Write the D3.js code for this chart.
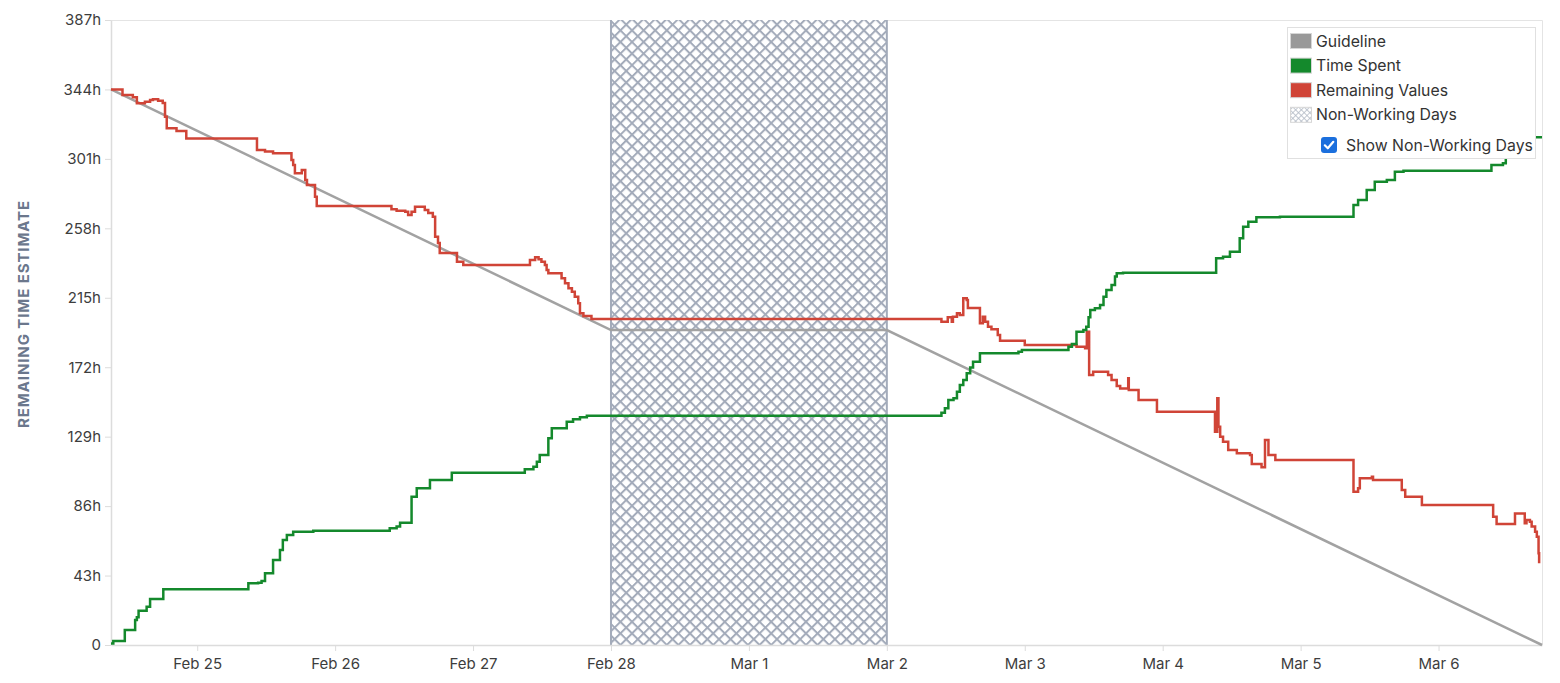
<!DOCTYPE html>
<html>
<head>
<meta charset="utf-8">
<script src="https://cdn.jsdelivr.net/npm/d3@7"></script>
<style>
  body { margin: 0; background: #fff; font-family: Inter, "Noto Sans", sans-serif; }
</style>
</head>
<body>
<div id="chart"></div>
<script>
/////// DATA  (times are hours since the sprint start, Feb 24 09:00)

const sprintStart = new Date(2026, 1, 24, 9, 0);
const sprintEndHour = 249;

// guideline corners
const guideHours = [0, 87, 135, 249];
const guideValues = [344, 195, 195, 0];

// non-working days: Feb 28 00:00 -> Mar 2 00:00
const nonWorkingFrom = [87];
const nonWorkingTo = [135];

// time spent (green)
const spentHours = [0, 0.4, 2.4, 4.2, 4.5, 4.8, 6.2, 6.8, 9.1, 23.9,
  25.6, 26.2, 26.8, 28.2, 29.4, 29.9, 30.6, 31.7, 35.2, 48.5,
  49.7, 50.3, 52.3, 53.2, 55.5, 59.3, 72.0, 73.5, 74.1, 74.6,
  76.1, 76.7, 79.3, 80.4, 81.6, 82.8, 144.5, 145.1, 145.7, 146.6,
  147.2, 147.7, 148.3, 148.9, 149.5, 150.0, 151.2, 157.9, 158.5, 166.6,
  167.2, 168.0, 169.2, 169.7, 170.1, 170.4, 171.2, 172.1, 172.7, 173.2,
  174.1, 174.7, 175.0, 176.1, 192.3, 193.5, 194.7, 196.4, 197.0, 197.9,
  199.3, 203.4, 216.2, 217.0, 218.5, 219.9, 222.0, 223.4, 224.9, 240.2,
  242.2, 242.7, 244.2, 246.0, 247.7, 249];
const spentValues = [1, 2.5, 9.3, 15.5, 17.2, 21.2, 23.7, 28.5, 34.5, 38.2,
  38.6, 39.6, 44.4, 52.6, 58.8, 65.0, 68.1, 70.2, 70.8, 72.3,
  73.3, 75.7, 91.8, 97.0, 102.2, 106.7, 108.8, 110.4, 113.5, 117.6,
  128.0, 134.2, 138.3, 139.8, 141.0, 142.0, 143.8, 146.6, 151.7, 152.8,
  156.8, 161.0, 164.1, 168.2, 171.9, 175.4, 180.6, 181.6, 182.7, 184.7,
  186.4, 194.0, 195.0, 197.1, 202.9, 207.4, 208.5, 210.5, 215.7, 219.8,
  222.9, 228.1, 230.2, 230.5, 239.4, 240.4, 243.5, 251.8, 259.0, 262.1,
  264.8, 265.2, 272.4, 275.6, 281.7, 286.9, 287.9, 293.1, 293.7, 297.2,
  298.3, 303.4, 306.5, 310.2, 314.4, 314.4];

// remaining values (red)
const remainingHours = [0, 2.0, 3.8, 4.5, 5.9, 6.8, 7.3, 8.2, 9.0, 9.4,
  9.7, 11.4, 13.1, 25.4, 26.8, 28.2, 31.4, 31.7, 32.0, 33.2,
  33.8, 34.1, 35.5, 35.8, 48.8, 49.7, 51.2, 51.7, 52.3, 52.9,
  54.6, 55.2, 56.0, 56.4, 56.9, 57.2, 60.2, 61.3, 72.9, 73.8,
  74.4, 74.9, 75.5, 75.8, 76.1, 78.4, 79.0, 79.6, 80.2, 80.7,
  81.3, 81.6, 82.2, 83.6, 144.5, 145.6, 146.3, 146.5, 147.2, 147.7,
  148.3, 148.9, 149.1, 151.2, 151.7, 152.1, 152.6, 153.2, 154.3, 154.7,
  159.0, 168.0, 169.5, 169.8, 170.2, 170.9, 173.5, 174.1, 175.0, 175.6,
  177.0, 177.1, 178.8, 182.0, 192.1, 192.5, 192.7, 193.0, 193.5, 194.4,
  195.9, 198.2, 198.5, 200.2, 200.8, 201.4, 202.6, 216.2, 217.0, 217.3,
  219.4, 219.6, 224.6, 225.2, 228.1, 240.5, 241.1, 244.3, 246.0, 246.3,
  246.9, 247.2, 247.8, 248.1, 248.4, 248.5];
const remainingValues = [344, 340.6, 339.1, 335.4, 336.4, 337.5, 337.9, 337.0, 335.6, 327.1,
  319.9, 318.3, 313.7, 306.5, 305.5, 304.5, 300.3, 297.2, 292.1, 294.1,
  287.9, 284.8, 277.6, 271.8, 269.8, 268.9, 268.3, 266.3, 268.3, 271.4,
  269.4, 267.5, 265.2, 252.8, 248.9, 242.7, 237.3, 235.3, 238.4, 240.1,
  238.8, 237.3, 235.3, 232.2, 230.2, 227.1, 224.0, 220.9, 218.8, 215.7,
  211.6, 205.4, 203.7, 201.9, 200.2, 202.9, 200.2, 203.3, 205.4, 204.3,
  214.7, 213.6, 208.7, 199.2, 203.3, 200.2, 197.1, 195.5, 192.0, 188.4,
  185.8, 184.7, 183.7, 194.0, 167.2, 169.2, 167.2, 164.1, 160.4, 158.9,
  165.1, 157.9, 151.7, 144.5, 132.1, 152.8, 135.2, 129.0, 125.9, 120.7,
  118.7, 117.6, 112.1, 110.0, 126.9, 117.6, 114.6, 94.9, 97.0, 103.2,
  104.2, 102.2, 96.0, 91.8, 86.7, 79.4, 74.9, 81.5, 75.4, 77.4,
  76.3, 73.3, 70.2, 67.1, 56.8, 50.6];

const yTicks = [0, 43, 86, 129, 172, 215, 258, 301, 344, 387];

const legendLabels = ["Guideline", "Time Spent", "Remaining Values", "Non-Working Days"];
const legendColors = ["#999999", "#14892c", "#d04437", "url(#hatchSmall)"];

/////// CHART

const width = 1560, height = 683;
const margin = { top: 20, right: 18, bottom: 38, left: 111 };

const toDate = h => new Date(sprintStart.getTime() + h * 3600 * 1000);
const zip = (hs, vs) => hs.map((h, i) => ({ t: toDate(h), v: vs[i] }));

const guide = zip(guideHours, guideValues);
const spent = zip(spentHours, spentValues);
const remaining = zip(remainingHours, remainingValues);

const svg = d3.select("#chart")
  .append("svg")
  .attr("width", width)
  .attr("height", height);

const x = d3.scaleTime()
  .domain([toDate(0), toDate(sprintEndHour)])
  .range([margin.left, width - margin.right]);

const y = d3.scaleLinear()
  .domain([0, 387])
  .range([height - margin.bottom, margin.top]);

// hatch patterns
const defs = svg.append("defs");
const hatch = defs.append("pattern")
  .attr("id", "hatch")
  .attr("patternUnits", "userSpaceOnUse")
  .attr("width", 8.2).attr("height", 8.2)
  .attr("patternTransform", "rotate(45)");
hatch.append("rect").attr("width", 8.2).attr("height", 8.2).attr("fill", "#fff");
hatch.append("rect").attr("width", 8.2).attr("height", 2).attr("fill", "#a3abba");
hatch.append("rect").attr("width", 2).attr("height", 8.2).attr("fill", "#a3abba");

const hatchSmall = defs.append("pattern")
  .attr("id", "hatchSmall")
  .attr("patternUnits", "userSpaceOnUse")
  .attr("width", 4).attr("height", 4)
  .attr("patternTransform", "rotate(45)");
hatchSmall.append("rect").attr("width", 4).attr("height", 4).attr("fill", "#fff");
hatchSmall.append("rect").attr("width", 4).attr("height", 0.8).attr("fill", "#b3bac6");
hatchSmall.append("rect").attr("width", 0.8).attr("height", 4).attr("fill", "#b3bac6");

// frame (top and right)
svg.append("path")
  .attr("d", `M${margin.left},${margin.top + 0.5}H${width - margin.right + 0.5}V${height - margin.bottom}`)
  .attr("fill", "none")
  .attr("stroke", "#e4e4e4");

// non-working days
nonWorkingFrom.forEach((h, i) => {
  const x0 = x(toDate(h)), x1 = x(toDate(nonWorkingTo[i]));
  svg.append("rect")
    .attr("x", x0).attr("y", margin.top)
    .attr("width", x1 - x0)
    .attr("height", y(0) - margin.top)
    .attr("fill", "url(#hatch)");
  [x0, x1].forEach(xx => svg.append("line")
    .attr("x1", xx).attr("x2", xx)
    .attr("y1", margin.top).attr("y2", y(0))
    .attr("stroke", "#a3abba")
    .attr("stroke-width", 2));
});

// axes
const xAxis = svg.append("g")
  .attr("transform", `translate(0,${y(0)})`)
  .call(d3.axisBottom(x)
    .ticks(d3.timeDay.every(1))
    .tickFormat(d3.timeFormat("%b %-d"))
    .tickSize(6)
    .tickPadding(7)
    .tickSizeOuter(0));

const yAxis = svg.append("g")
  .attr("transform", `translate(${margin.left},0)`)
  .call(d3.axisLeft(y)
    .tickValues(yTicks)
    .tickFormat(d => d === 0 ? "0" : d + "h")
    .tickSize(6)
    .tickPadding(4)
    .tickSizeOuter(0));

[xAxis, yAxis].forEach(g => {
  g.select(".domain").attr("stroke", "#dcdcdc").attr("stroke-width", 1.5);
  g.selectAll(".tick line").attr("stroke", "#dcdcdc");
  g.selectAll(".tick text")
    .attr("fill", "#3d3d3d")
    .style("font-family", "Inter, sans-serif")
    .style("font-size", "15px");
});

svg.append("text")
  .attr("transform", "translate(29,314) rotate(-90)")
  .attr("text-anchor", "middle")
  .attr("fill", "#6b778c")
  .style("font-size", "15px")
  .style("font-weight", "700")
  .style("letter-spacing", "0.9px")
  .text("REMAINING TIME ESTIMATE");

// lines
const guideLine = d3.line().x(d => x(d.t)).y(d => y(d.v));
const stepLine = d3.line().x(d => x(d.t)).y(d => y(d.v)).curve(d3.curveStepAfter);

svg.append("path")
  .datum(guide)
  .attr("d", guideLine)
  .attr("fill", "none")
  .attr("stroke", "#a2a2a2")
  .attr("stroke-width", 2.5);

svg.append("path")
  .datum(remaining)
  .attr("d", stepLine)
  .attr("fill", "none")
  .attr("stroke", "#d04437")
  .attr("stroke-width", 2.5);

svg.append("path")
  .datum(spent)
  .attr("d", stepLine)
  .attr("fill", "none")
  .attr("stroke", "#14892c")
  .attr("stroke-width", 2.5);

/////// LEGEND

const legend = svg.append("g");

legend.append("rect")
  .attr("x", 1287.5).attr("y", 27.5)
  .attr("width", 248).attr("height", 131)
  .attr("fill", "#fff")
  .attr("stroke", "#e0e0e0");

const item = legend.selectAll("g.item")
  .data(legendLabels)
  .join("g")
  .attr("class", "item")
  .attr("transform", (d, i) => `translate(1290,${41 + i * 24.6})`);

item.append("rect")
  .attr("x", 0.5).attr("y", -7.5)
  .attr("width", 21).attr("height", 15)
  .attr("fill", (d, i) => legendColors[i])
  .attr("stroke", "#d6d6d6");

item.append("text")
  .attr("x", 26)
  .attr("dy", "0.35em")
  .attr("fill", "#333")
  .style("font-size", "15.8px")
  .text(d => d);

// checkbox
const cb = legend.append("g").attr("transform", "translate(1321,137)");
cb.append("rect")
  .attr("width", 16).attr("height", 16)
  .attr("rx", 3)
  .attr("fill", "#1b6fdd");
cb.append("path")
  .attr("d", "M3.8,8.3 L6.8,11.3 L12.3,4.8")
  .attr("fill", "none")
  .attr("stroke", "#fff")
  .attr("stroke-width", 2.2)
  .attr("stroke-linecap", "round")
  .attr("stroke-linejoin", "round");

legend.append("text")
  .attr("x", 1346).attr("y", 145)
  .attr("dy", "0.35em")
  .attr("fill", "#333")
  .style("font-size", "15.8px")
  .text("Show Non-Working Days");
</script>
</body>
</html>
